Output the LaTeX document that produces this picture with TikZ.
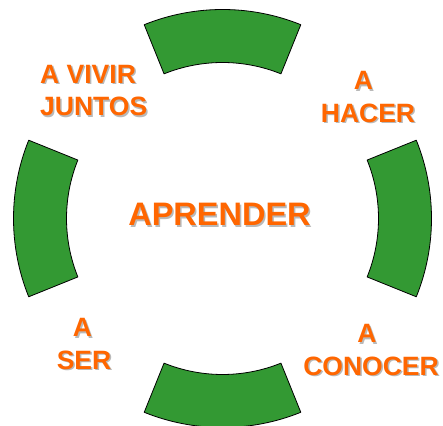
\documentclass[tikz,border=0pt]{standalone}
\usepackage{fontspec}
\setmainfont{Liberation Sans}
\definecolor{segreen}{HTML}{339933}
\definecolor{lblorange}{HTML}{FF6600}
\newcommand\shd[1]{\makebox[0pt][l]{\kern1.5pt\raisebox{-1.5pt}{\textcolor{gray!55}{#1}}}#1}
\begin{document}
\begin{tikzpicture}[x=1pt,y=1pt,
  seg/.style={fill=segreen,draw=black,line width=0.8pt,line join=round},
  lbl/.style={text=lblorange,font=\bfseries\fontsize{26.5}{32.5}\selectfont,inner sep=0pt,align=center},
  big/.style={text=lblorange,font=\bfseries\fontsize{32.5}{38}\selectfont,inner sep=0pt}]
\useasboundingbox (0,0) rectangle (443,425);
\coordinate (C) at (222.5,206.5);
\foreach \a in {90,0,270,180}{
  \draw[seg] ([shift={(\a-22:209)}]C) arc[start angle=\a-22,end angle=\a+22,radius=209]
    -- ([shift={(\a+22:156)}]C) arc[start angle=\a+22,end angle=\a-22,radius=156] -- cycle;
}
\node[big] (aprender) at (219.5,209.5) {\shd{APRENDER}};
\node[lbl,anchor=west,align=left] (vivir) at (40,333.5) {\shd{A VIVIR}\\\shd{JUNTOS}};
\node[lbl] (hacer) at (368,327) {\shd{A}\kern9pt\\\shd{HACER}};
\node[lbl] (conocer) at (371,74) {\shd{A}\kern8pt\\\shd{CONOCER}};
\node[lbl] (ser) at (84,80) {\shd{A}\kern3pt\\\shd{SER}};
\end{tikzpicture}
\end{document}
